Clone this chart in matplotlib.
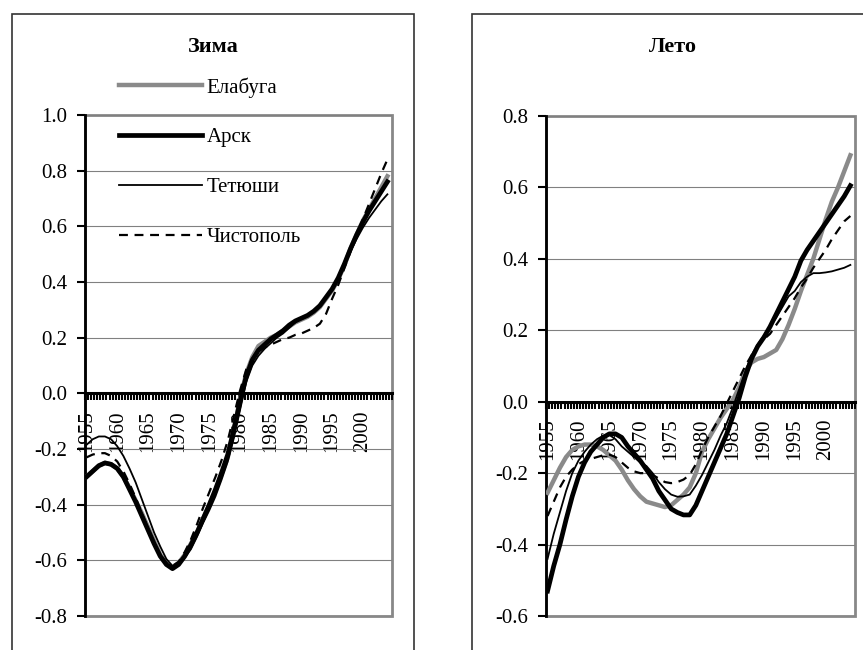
import numpy as np
import matplotlib
matplotlib.use("Agg")
import matplotlib.pyplot as plt
from matplotlib.patches import Rectangle
from matplotlib.ticker import FixedLocator, FormatStrFormatter

plt.rcParams['font.family'] = ['Liberation Serif', 'DejaVu Serif']
plt.rcParams['axes.unicode_minus'] = False

years = list(range(1955, 2005))
label_years = list(range(1955, 2001, 5))
names = ["Елабуга", "Арск", "Тетюши", "Чистополь"]

# Зима
w_elabuga = [-0.30, -0.28, -0.26, -0.25, -0.255, -0.27, -0.30, -0.34, -0.385, -0.43,
             -0.48, -0.53, -0.58, -0.61, -0.625, -0.61, -0.58, -0.54, -0.50, -0.45,
             -0.40, -0.35, -0.29, -0.23, -0.13, -0.02, 0.07, 0.13, 0.17, 0.185,
             0.20, 0.21, 0.225, 0.24, 0.255, 0.265, 0.275, 0.29, 0.31, 0.34,
             0.37, 0.41, 0.46, 0.52, 0.57, 0.62, 0.66, 0.70, 0.74, 0.78]
w_arsk = [-0.30, -0.28, -0.26, -0.25, -0.255, -0.27, -0.30, -0.345, -0.39, -0.44,
          -0.49, -0.54, -0.585, -0.615, -0.63, -0.615, -0.585, -0.545, -0.50, -0.45,
          -0.40, -0.345, -0.285, -0.22, -0.13, -0.03, 0.06, 0.12, 0.155, 0.175,
          0.195, 0.21, 0.225, 0.245, 0.26, 0.27, 0.28, 0.295, 0.315, 0.345,
          0.375, 0.415, 0.465, 0.52, 0.57, 0.615, 0.655, 0.69, 0.725, 0.76]
w_tetyushi = [-0.185, -0.165, -0.155, -0.155, -0.165, -0.19, -0.225, -0.27, -0.32, -0.38,
              -0.44, -0.50, -0.55, -0.595, -0.62, -0.615, -0.59, -0.56, -0.515, -0.465,
              -0.42, -0.37, -0.31, -0.245, -0.16, -0.06, 0.04, 0.10, 0.135, 0.16,
              0.18, 0.20, 0.215, 0.235, 0.255, 0.27, 0.28, 0.295, 0.315, 0.345,
              0.375, 0.415, 0.46, 0.51, 0.555, 0.595, 0.63, 0.66, 0.69, 0.715]
w_chistopol = [-0.23, -0.22, -0.215, -0.215, -0.225, -0.245, -0.28, -0.325, -0.375, -0.43,
               -0.485, -0.535, -0.58, -0.61, -0.62, -0.605, -0.57, -0.525, -0.47, -0.41,
               -0.355, -0.30, -0.24, -0.17, -0.08, 0.01, 0.085, 0.125, 0.15, 0.165,
               0.175, 0.185, 0.195, 0.20, 0.21, 0.215, 0.225, 0.235, 0.25, 0.285,
               0.34, 0.39, 0.45, 0.51, 0.57, 0.625, 0.68, 0.735, 0.79, 0.84]

# Лето
s_elabuga = [-0.255, -0.22, -0.185, -0.155, -0.135, -0.125, -0.12, -0.12, -0.125, -0.135,
             -0.15, -0.165, -0.19, -0.22, -0.245, -0.265, -0.28, -0.285, -0.29, -0.295,
             -0.29, -0.275, -0.26, -0.24, -0.20, -0.14, -0.105, -0.075, -0.045, -0.02,
             0.005, 0.04, 0.085, 0.11, 0.12, 0.125, 0.135, 0.145, 0.175, 0.215,
             0.26, 0.31, 0.355, 0.40, 0.455, 0.51, 0.56, 0.60, 0.645, 0.69]
s_arsk = [-0.53, -0.46, -0.40, -0.33, -0.265, -0.21, -0.17, -0.14, -0.12, -0.10,
          -0.09, -0.09, -0.10, -0.125, -0.145, -0.165, -0.19, -0.215, -0.25, -0.275,
          -0.30, -0.31, -0.317, -0.317, -0.29, -0.25, -0.21, -0.17, -0.13, -0.09,
          -0.04, 0.01, 0.07, 0.12, 0.155, 0.18, 0.21, 0.245, 0.28, 0.315,
          0.35, 0.395, 0.425, 0.45, 0.475, 0.50, 0.525, 0.55, 0.575, 0.605]
s_tetyushi = [-0.44, -0.37, -0.31, -0.25, -0.20, -0.165, -0.14, -0.12, -0.105, -0.095,
              -0.093, -0.105, -0.125, -0.14, -0.155, -0.17, -0.18, -0.20, -0.225, -0.245,
              -0.26, -0.266, -0.265, -0.26, -0.235, -0.205, -0.17, -0.135, -0.095, -0.06,
              -0.015, 0.035, 0.085, 0.13, 0.16, 0.185, 0.21, 0.235, 0.265, 0.295,
              0.31, 0.335, 0.35, 0.36, 0.36, 0.362, 0.365, 0.37, 0.375, 0.383]
s_chistopol = [-0.32, -0.28, -0.24, -0.21, -0.19, -0.175, -0.165, -0.16, -0.155, -0.15,
               -0.148, -0.155, -0.17, -0.185, -0.195, -0.20, -0.20, -0.205, -0.215, -0.225,
               -0.228, -0.225, -0.218, -0.205, -0.175, -0.135, -0.10, -0.07, -0.04, -0.005,
               0.03, 0.065, 0.10, 0.13, 0.155, 0.175, 0.19, 0.215, 0.24, 0.265,
               0.29, 0.32, 0.345, 0.375, 0.40, 0.425, 0.455, 0.48, 0.505, 0.52]

styles = [dict(color="#8a8a8a", lw=3.2, ls="-"),
          dict(color="black", lw=3.4, ls="-"),
          dict(color="black", lw=1.3, ls="-"),
          dict(color="black", lw=1.6, ls=(0, (4, 3)))]

fig = plt.figure(figsize=(8.63, 6.5), dpi=100)

# outer frames
fig.patches.append(Rectangle((12/863, -0.1), 402/863, 1.1 - 14/650, transform=fig.transFigure,
                             fill=False, ec="#333333", lw=1.2))
fig.patches.append(Rectangle((472/863, -0.1), 0.6, 1.1 - 14/650, transform=fig.transFigure,
                             fill=False, ec="#333333", lw=1.2))


def make_panel(rect, series, ylo, yhi, title, tx):
    ax = fig.add_axes(rect)
    for vals, st in zip(series, styles):
        ax.plot(years, vals, color=st["color"], lw=st["lw"], ls=st["ls"], zorder=3)
    ax.set_xlim(1954.75, 2004.75)
    ax.set_ylim(ylo, yhi)
    ax.set_yticks(np.round(np.arange(ylo, yhi + 0.01, 0.2), 1) + 0.0)
    ax.yaxis.set_major_formatter(FormatStrFormatter('%.1f'))
    ax.grid(axis='y', color="#808080", lw=0.8)
    ax.spines['top'].set_visible(False)
    ax.spines['right'].set_visible(False)
    ax.spines['left'].set_linewidth(2)
    ax.spines['bottom'].set_position(('data', 0))
    ax.spines['bottom'].set_linewidth(2.2)
    ax.spines['bottom'].set_zorder(4)
    ax.add_patch(Rectangle((0, 0), 1, 1, transform=ax.transAxes, fill=False,
                           ec="#888888", lw=2, zorder=1, clip_on=False))
    ax.set_xticks(label_years)
    ax.set_xticklabels([str(y) for y in label_years], rotation=90)
    ax.xaxis.set_minor_locator(FixedLocator(np.arange(1954.75, 2004.8, 0.5)))
    ax.tick_params(axis='x', which='major', length=0, pad=12, labelsize=15)
    ax.tick_params(axis='x', which='minor', length=5, width=1.5, direction='out')
    ax.tick_params(axis='y', length=6, width=1.5, pad=7, labelsize=15)
    fig.text(tx, 1 - 47/650, title, ha='center', va='center', fontsize=16, fontweight='bold')
    return ax


ax1 = make_panel([85/863, 34/650, 307/863, 501/650],
                 [w_elabuga, w_arsk, w_tetyushi, w_chistopol], -0.8, 1.0, "Зима", 213/863)
ax2 = make_panel([546/863, 34/650, 309/863, 500/650],
                 [s_elabuga, s_arsk, s_tetyushi, s_chistopol], -0.6, 0.8, "Лето", 673/863)

ax1.legend(ax1.get_lines(), names, loc='upper left', frameon=False, fontsize=15,
           bbox_to_anchor=(119/863, 1 - 77/650), bbox_transform=fig.transFigure,
           borderpad=0, borderaxespad=0, handlelength=4.0, handletextpad=0.2,
           labelspacing=1.45)

fig.savefig("out.png", dpi=100)
